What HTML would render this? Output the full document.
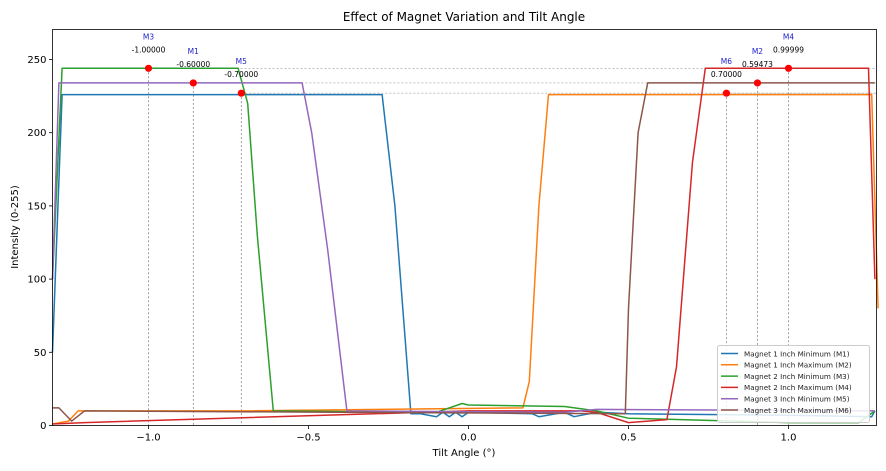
<!DOCTYPE html>
<html><head><meta charset="utf-8"><style>
body{margin:0;background:#fff;}
svg{display:block;font-family:"DejaVu Sans","Liberation Sans",sans-serif;}
</style></head><body>
<svg id="chart" width="886" height="471" viewBox="0 0 886 471" xmlns="http://www.w3.org/2000/svg">
<rect x="0" y="0" width="886" height="471" fill="#fff"/>
<text x="464" y="21" font-size="12" text-anchor="middle" fill="#000">Effect of Magnet Variation and Tilt Angle</text>
<g id="grid"></g>
<g id="series"></g>
<g id="markers"></g>
<rect x="52.5" y="29.5" width="824" height="396" fill="none" stroke="#000" stroke-width="0.8"/>
<g id="xticks"></g><g id="yticks"></g>
<text x="464" y="456" font-size="10" text-anchor="middle">Tilt Angle (°)</text>
<text transform="translate(18,227) rotate(-90)" font-size="10" text-anchor="middle">Intensity (0-255)</text>
<g id="legend"></g>
</svg>
<script>
const seriesNames=["Magnet 1 Inch Minimum (M1)","Magnet 1 Inch Maximum (M2)","Magnet 2 Inch Minimum (M3)","Magnet 2 Inch Maximum (M4)","Magnet 3 Inch Minimum (M5)","Magnet 3 Inch Maximum (M6)"];
const seriesColors=["#1f77b4","#ff7f0e","#2ca02c","#d62728","#9467bd","#8c564b"];
const m1X=[-1.3,-1.27,-1.25,-0.27,-0.23,-0.18,-0.15,-0.1,-0.08,-0.06,-0.04,-0.02,0.0,0.2,0.22,0.3,0.33,0.4,0.5,1.0,1.26,1.27];
const m1Y=[50,226,226,226,150,8,8,6,9,6,9,6,9,8,6,9,6,9,8,7,6,10];
const m2X=[-1.3,-1.25,-1.22,-1.0,-0.7,0.17,0.19,0.22,0.25,1.26,1.28];
const m2Y=[1,3,10,10,10,12,30,150,226,226,80];
const m3X=[-1.3,-1.27,-0.72,-0.69,-0.66,-0.61,-0.1,-0.02,0.0,0.3,0.4,0.5,1.0,1.22,1.27];
const m3Y=[100,244,244,220,130,10,9,15,14,13,10,5,2,2,10];
const m4X=[-1.3,-1.2,0.0,0.35,0.4,0.5,0.62,0.65,0.7,0.74,1.25,1.27];
const m4Y=[1,2,10,10,9,2,4,40,180,244,244,100];
const m5X=[-1.3,-1.28,-0.52,-0.49,-0.44,-0.38,0.3,0.4,1.27];
const m5Y=[100,234,234,200,120,10,9,11,10];
const m6X=[-1.3,-1.28,-1.24,-1.2,0.49,0.5,0.53,0.56,1.27];
const m6Y=[12,12,3,10,8,80,200,234,234];
const allX=[m1X,m2X,m3X,m4X,m5X,m6X], allY=[m1Y,m2Y,m3Y,m4Y,m5Y,m6Y];
const markerNames=["M3","M1","M5","M6","M2","M4"];
const markerX=[-1.0,-0.86,-0.71,0.806,0.903,1.0];
const markerY=[244,234,227,227,234,244];
const markerVals=["-1.00000","-0.60000","-0.70000","0.70000","0.59473","0.99999"];
const xTicks=[-1.0,-0.5,0.0,0.5,1.0];
const xTickLabels=["−1.0","−0.5","0.0","0.5","1.0"];
const yTicks=[0,50,100,150,200,250];

const X0=52.5,X1=876.5,Y0=425.5,Y1=29.5,XMIN=-1.3,XMAX=1.275,YMIN=0,YMAX=270.5;
const sx=v=>X0+(v-XMIN)/(XMAX-XMIN)*(X1-X0);
const sy=v=>Y0-(v-YMIN)/(YMAX-YMIN)*(Y0-Y1);
const NS="http://www.w3.org/2000/svg";
function mk(tag,attrs,parent){const e=document.createElementNS(NS,tag);for(const k in attrs)e.setAttribute(k,attrs[k]);parent.appendChild(e);return e;}
const gS=document.getElementById('series'),gM=document.getElementById('markers'),gG=document.getElementById('grid');
allX.forEach((xs,i)=>{
  const d=xs.map((x,j)=>(j?'L':'M')+sx(x).toFixed(1)+','+sy(allY[i][j]).toFixed(1)).join('');
  const p=mk('path',{d:d,fill:'none',stroke:seriesColors[i],'stroke-width':1.5,'stroke-linejoin':'round'},gS);
  
  
});
markerX.forEach((x,i)=>{
  const px=sx(x),py=sy(markerY[i]);
  const v=mk('line',{x1:px,y1:py,x2:px,y2:Y0,stroke:'#777','stroke-width':0.7,'stroke-dasharray':'2,2'},gG);
  
  
  const h=mk('line',{x1:px,y1:py,x2:X1,y2:py,stroke:'#999','stroke-width':0.7,'stroke-dasharray':'2,2'},gG);
  
  
  const c=mk('circle',{cx:px,cy:py,r:3.6,fill:'#ff0000'},gM);
  
  
  const t1=mk('text',{x:px,y:py-29,'font-size':7.5,'text-anchor':'middle',fill:'#2222cc'},gM);
  t1.textContent=markerNames[i];
  
  
  const t2=mk('text',{x:px,y:py-16,'font-size':7.5,'text-anchor':'middle',fill:'#000'},gM);
  t2.textContent=markerVals[i];
  
  
});
const gx=document.getElementById('xticks'),gy=document.getElementById('yticks');
xTicks.forEach((v,i)=>{
  const l=mk('line',{x1:sx(v),y1:Y0,x2:sx(v),y2:Y0+3.5,stroke:'#000','stroke-width':0.8},gx);
  
  
  const t=mk('text',{x:sx(v),y:Y0+15,'font-size':10,'text-anchor':'middle'},gx);
  t.textContent=xTickLabels[i];
  
  
});
yTicks.forEach(v=>{
  const l=mk('line',{x1:X0-3.5,y1:sy(v),x2:X0,y2:sy(v),stroke:'#000','stroke-width':0.8},gy);
  
  
  const t=mk('text',{x:X0-6,y:sy(v)+3.5,'font-size':10,'text-anchor':'end'},gy);
  t.textContent=v;
  
  
});
const gL=document.getElementById('legend');
mk('rect',{x:717.5,y:345.5,width:152,height:77,fill:'#fff','fill-opacity':0.85,stroke:'#ccc',rx:2},gL);
seriesNames.forEach((n,i)=>{
  const y=353.5+i*11.3;
  const l=mk('line',{x1:721,y1:y,x2:738,y2:y,stroke:seriesColors[i],'stroke-width':1.5},gL);
  
  
  const t=mk('text',{x:744,y:y+2.8,'font-size':7.2,fill:'#222'},gL);
  t.textContent=n;
  
  
});
</script>
</body></html>
